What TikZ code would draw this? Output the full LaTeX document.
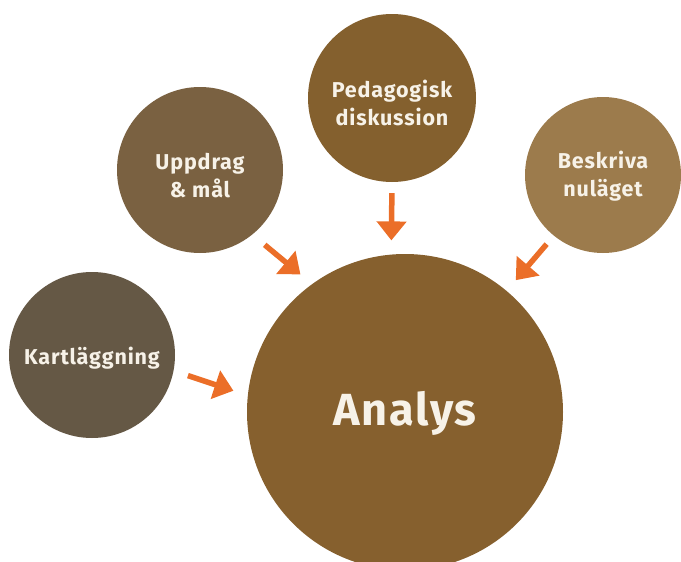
\documentclass[tikz,border=0pt]{standalone}
\usepackage{fontspec}
\setmainfont{Fira Sans}[LetterSpace=4]
\usetikzlibrary{arrows.meta}

\definecolor{kartbrown}{HTML}{655845}
\definecolor{uppbrown}{HTML}{7A6141}
\definecolor{pedbrown}{HTML}{84602E}
\definecolor{beskbrown}{HTML}{9C7B4C}
\definecolor{anabrown}{HTML}{86602E}
\definecolor{flowcolor}{HTML}{EB6E28}
\definecolor{labelcream}{HTML}{F7F2E8}

\begin{document}
\begin{tikzpicture}[x=1pt,y=-1pt,
    bubble/.style={circle,inner sep=0pt},
    caption/.style={align=center,text=labelcream,inner sep=0pt,
        font=\bfseries\fontsize{21.5}{28}\selectfont},
    flow/.style={draw=flowcolor,line width=5.5pt,
        -{Triangle[length=19pt,width=29pt]}}]
    \useasboundingbox (0,0) rectangle (681,562);

    % Centre
    \node[bubble,fill=anabrown,minimum size=316pt,
        label={[caption,font=\bfseries\fontsize{45}{50}\selectfont,yshift=-1pt]center:Analys}]
        (ana) at (405,412) {};

    % Surrounding steps
    \node[bubble,fill=kartbrown,minimum size=166pt,
        label={[caption,yshift=-3pt]center:Kartläggning}] (kart) at (92,355) {};
    \node[bubble,fill=uppbrown,minimum size=166pt,
        label={[caption,yshift=-6pt]center:{Uppdrag\\\& mål}}] (upp) at (200,170) {};
    \node[bubble,fill=pedbrown,minimum size=168pt,
        label={[caption,yshift=-5pt]center:{Pedagogisk\\diskussion}}] (ped) at (392,98) {};
    \node[bubble,fill=beskbrown,minimum size=156pt,
        label={[caption,yshift=-1pt]center:{Beskriva\\nuläget}}] (besk) at (603,175) {};

    % Arrows into the centre
    \draw[flow,shorten <=15pt,shorten >=15pt] (kart.-11) -- (ana.174);
    \draw[flow,shorten <=16pt,shorten >=15pt] (upp.-51) -- (ana.126);
    \draw[flow,shorten <=11pt,shorten >=14pt] (ped.-90) -- (ana.95);
    \draw[flow,shorten <=11pt,shorten >=14pt] (besk.-129) -- (ana.50);
\end{tikzpicture}
\end{document}
